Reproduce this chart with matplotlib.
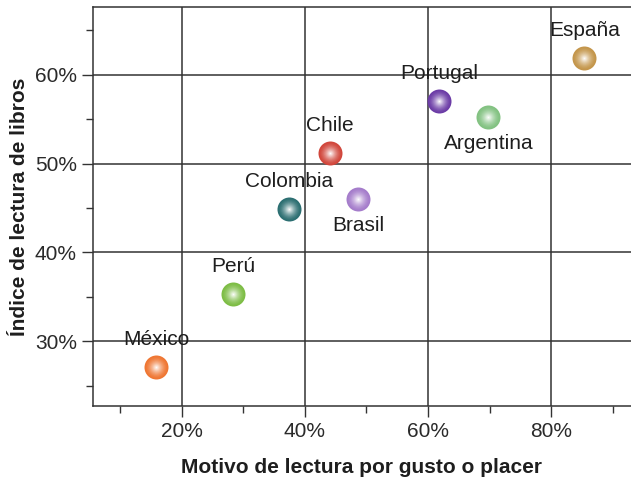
import numpy as np
import matplotlib
matplotlib.use("Agg")
import matplotlib.pyplot as plt
from matplotlib.colors import to_rgb
from matplotlib.ticker import MultipleLocator, PercentFormatter

paises = ["México", "Perú", "Colombia", "Chile", "Brasil", "Portugal", "Argentina", "España"]
gusto = [15.8, 28.3, 37.4, 44.1, 48.6, 61.8, 69.8, 85.4]      # % motivo por gusto o placer
indice = [27.1, 35.3, 44.9, 51.2, 46.0, 57.0, 55.2, 61.9]     # % índice de lectura
colores = ["#ef7632", "#7dbd45", "#2b6e71", "#d1463b", "#a57ccb", "#6b3ba6", "#82c281", "#c4964b"]
arriba = [True, True, True, True, False, True, False, True]   # etiqueta encima o debajo

plt.rcParams['font.family'] = ['Liberation Sans', 'DejaVu Sans']

fig = plt.figure(figsize=(6.31, 4.83), dpi=100)
ax = fig.add_axes([0.147, 0.159, 0.853, 0.826])

ax.set_xlim(5.5, 93)
ax.set_ylim(22.7, 67.6)
ax.xaxis.set_major_locator(MultipleLocator(20))
ax.xaxis.set_minor_locator(MultipleLocator(10))
ax.yaxis.set_major_locator(MultipleLocator(10))
ax.yaxis.set_minor_locator(MultipleLocator(5))
ax.xaxis.set_major_formatter(PercentFormatter(decimals=0))
ax.yaxis.set_major_formatter(PercentFormatter(decimals=0))
ax.grid(True, which='major', color='#333333', lw=1.1)
ax.set_axisbelow(True)
ax.tick_params(which='major', length=8, width=1, color='#333333', labelsize=15, labelcolor='#2a2a2a')
ax.tick_params(which='minor', length=5, width=1, color='#333333')
for s in ['left', 'bottom', 'top']:
    ax.spines[s].set_color('#333333')
    ax.spines[s].set_linewidth(1.1)
ax.spines['right'].set_visible(False)

# esferas con degradado radial
n = 16
for x, y, c in zip(gusto, indice, colores):
    base = np.array(to_rgb(c))
    for i in range(n):
        f = i / (n - 1)
        r = 12 * (1 - 0.95 * f)
        col = base + (1 - base) * f ** 1.6 * 0.97
        ax.scatter(x, y, s=(r * 1.44) ** 2, color=col, lw=0, zorder=3 + i * 0.01)

for p, x, y, up in zip(paises, gusto, indice, arriba):
    ax.annotate(p, (x, y), xytext=(0, 20 if up else -19), textcoords='offset points',
                ha='center', va='center', fontsize=15, color='#1e1e1e', zorder=5)

ax.set_xlabel("Motivo de lectura por gusto o placer", fontsize=15, fontweight='bold',
              color='#1e1e1e', labelpad=12)
ax.set_ylabel("Índice de lectura de libros", fontsize=15, fontweight='bold',
              color='#1e1e1e', labelpad=4)

fig.savefig("out.png", dpi=100)
